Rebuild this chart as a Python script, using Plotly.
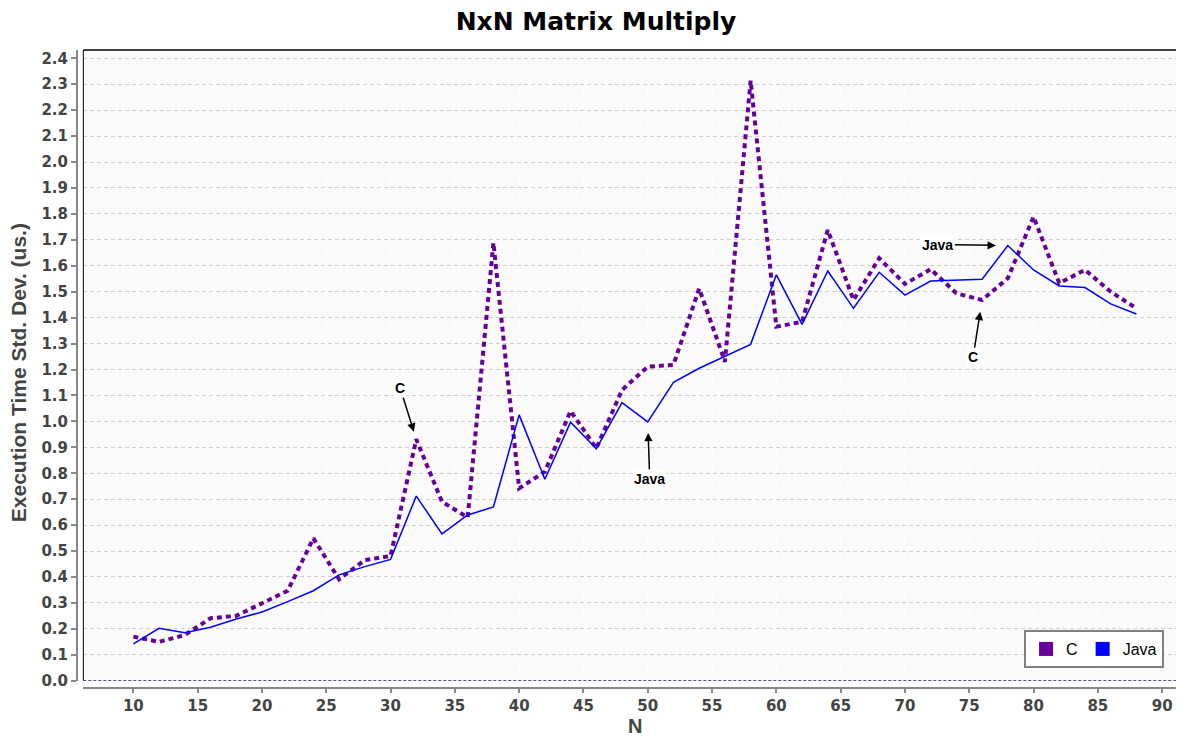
import plotly.graph_objects as go

# matrix size N
n_vals = [10, 12, 14, 16, 18, 20, 22, 24, 26, 28, 30, 32, 34, 36, 38, 40, 42, 44, 46, 48,
          50, 52, 54, 56, 58, 60, 62, 64, 66, 68, 70, 72, 74, 76, 78, 80, 82, 84, 86, 88]

# execution time std. dev. (us.)
c_vals = [0.170, 0.150, 0.176, 0.241, 0.250, 0.298, 0.347, 0.549, 0.391, 0.465,
          0.481, 0.931, 0.690, 0.630, 1.689, 0.742, 0.806, 1.040, 0.896, 1.121,
          1.211, 1.218, 1.512, 1.230, 2.314, 1.365, 1.384, 1.738, 1.468, 1.629,
          1.530, 1.587, 1.494, 1.468, 1.552, 1.789, 1.533, 1.584, 1.500, 1.436]

java_vals = [0.142, 0.202, 0.185, 0.206, 0.238, 0.265, 0.305, 0.347, 0.408, 0.440,
             0.468, 0.712, 0.566, 0.639, 0.670, 1.025, 0.777, 0.997, 0.894, 1.072,
             0.998, 1.151, 1.205, 1.252, 1.297, 1.565, 1.374, 1.580, 1.436, 1.575,
             1.487, 1.541, 1.545, 1.548, 1.678, 1.584, 1.522, 1.516, 1.453, 1.414]

C_COLOR = "#660099"
JAVA_COLOR = "#0000ff"
TICK_FONT = dict(family="DejaVu Sans", size=15, color="#444444", weight="bold")
LBL_FONT = dict(family="Liberation Sans", size=14, color="#000000", weight="bold")

fig = go.Figure()

fig.add_trace(go.Scatter(x=n_vals, y=c_vals, mode="lines", name="C", showlegend=False,
                         line=dict(color=C_COLOR, width=4, dash="5px,4px")))
fig.add_trace(go.Scatter(x=n_vals, y=java_vals, mode="lines", name="Java", showlegend=False,
                         line=dict(color=JAVA_COLOR, width=1.5)))

# legend entries drawn as squares
for name, col in [("C", C_COLOR), ("Java", JAVA_COLOR)]:
    fig.add_trace(go.Scatter(x=[None], y=[None], mode="markers", name=name,
                             marker=dict(symbol="square", size=14, color=col)))

# pointer annotations
pointers = [
    ("C", 32, 0.931, -16, -51, 8),
    ("Java", 50, 0.998, 2, 57, 11),
    ("Java", 78, 1.678, -70, -1, 12),
    ("C", 76, 1.468, -9, 57, 12),
]
for txt, px, py, ax, ay, so in pointers:
    fig.add_annotation(x=px, y=py, xref="x", yref="y", text=txt, showarrow=True,
                       ax=ax, ay=ay, standoff=so, arrowhead=2, arrowsize=1.1,
                       arrowwidth=1.5, arrowcolor="#000000", font=LBL_FONT,
                       bgcolor="#ffffff")

# axis titles
fig.add_annotation(text="Execution Time Std. Dev. (us.)", xref="paper", yref="paper",
                   x=-0.0533, y=0.495, xanchor="center", yanchor="middle",
                   textangle=-90, showarrow=False,
                   font=dict(family="Liberation Sans", size=21, color="#444444", weight="bold"))
fig.add_annotation(text="N", xref="paper", yref="paper",
                   x=0.504, y=-0.060, xanchor="center", yanchor="middle", showarrow=False,
                   font=dict(family="Liberation Sans", size=20, color="#444444", weight="bold"))

# plot outline (left/top) and zero baseline
fig.add_shape(type="line", xref="x domain", yref="y domain", x0=0, x1=0, y0=0, y1=1,
              line=dict(color="#000000", width=1))
fig.add_shape(type="line", xref="x domain", yref="y domain", x0=0, x1=1, y0=1, y1=1,
              line=dict(color="#000000", width=1.5))
fig.add_shape(type="line", xref="x domain", yref="y", x0=0, x1=1, y0=0, y1=0,
              line=dict(color="#1a1a80", width=1.5, dash="3px,2px"))

fig.update_layout(
    width=1176, height=728,
    margin=dict(l=69, r=0, t=42, b=48),
    paper_bgcolor="#ffffff", plot_bgcolor="#fafafa",
    title=dict(text="NxN Matrix Multiply", x=0.5, xref="container", xanchor="center",
               y=0.9821, yref="container", yanchor="middle",
               font=dict(family="DejaVu Sans", size=25, color="#000000", weight="bold")),
    xaxis=dict(range=[6.11, 91.7], domain=[0.0057, 1], anchor="free", position=0,
               tick0=0, dtick=5, ticks="outside", ticklen=4, tickwidth=1.5,
               tickcolor="#888888", showline=True, linecolor="#888888", linewidth=2,
               showgrid=True, gridcolor="#ffffff", griddash="dash", gridwidth=1,
               zeroline=False, tickfont=TICK_FONT, automargin=False),
    yaxis=dict(range=[0, 2.432], domain=[0.0114, 1], anchor="free", position=0,
               tick0=0, dtick=0.1, tickformat=".1f", ticks="outside", ticklen=5,
               tickwidth=1.5, tickcolor="#888888", showline=True, linecolor="#888888",
               linewidth=2, showgrid=True, gridcolor="#cfcfcf", griddash="4px,3px",
               gridwidth=1, zeroline=False, tickfont=TICK_FONT, automargin=False),
    legend=dict(orientation="h", x=0.982, xanchor="right", y=0.0313, yanchor="bottom",
                bgcolor="#ffffff", bordercolor="#808080", borderwidth=2,
                font=dict(family="Liberation Sans", size=16, color="#000000"),
                itemwidth=30, tracegroupgap=0),
    showlegend=True,
)

fig.write_html("out.html")
